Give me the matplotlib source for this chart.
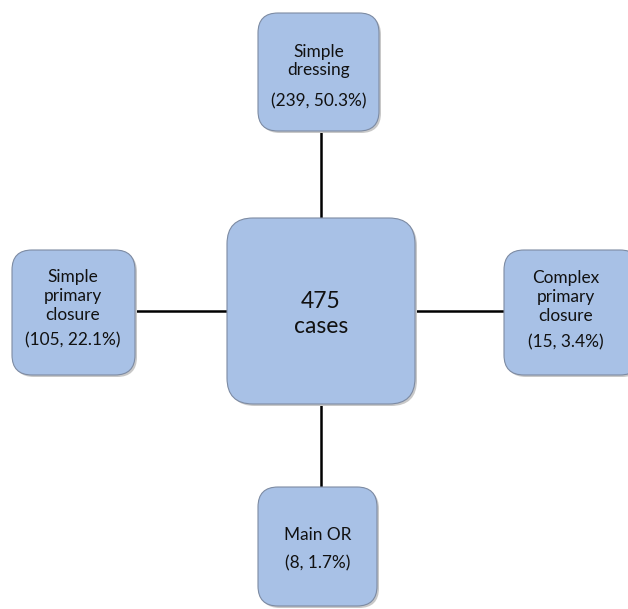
import matplotlib
matplotlib.use("Agg")
import matplotlib.pyplot as plt
from matplotlib.patches import FancyBboxPatch

plt.rcParams['font.family'] = ['Lato', 'DejaVu Sans']

total_label = "475\ncases"
categories = ["Simple\ndressing", "Simple\nprimary\nclosure", "Complex\nprimary\nclosure", "Main OR"]
counts = [239, 105, 15, 8]
percents = [50.3, 22.1, 3.4, 1.7]

W, H = 628, 609
fig = plt.figure(figsize=(W / 100, H / 100), dpi=100)
ax = fig.add_axes([0, 0, 1, 1])
ax.set_xlim(0, W)
ax.set_ylim(H, 0)
ax.axis('off')

fill = '#a8c1e6'
edge = '#7d8ba3'

# boxes: (x0, y0, x1, y1), label y, value y, x centre
center_box = (227, 218, 415, 404)
boxes = [
    ((258, 13, 379, 131), 61, 101, 319),
    ((12, 250, 135, 375), 296, 340, 73),
    ((504, 250, 640, 375), 297, 342, 566),
    ((258, 487, 377, 606), 535, 563, 318),
]

def draw_box(b, r):
    x0, y0, x1, y1 = b
    sh = FancyBboxPatch((x0 + 2, y0 + 2), x1 - x0, y1 - y0,
                        boxstyle=f"round,pad=0,rounding_size={r}",
                        fc='#c8c8c8', ec='none', zorder=1)
    ax.add_patch(sh)
    p = FancyBboxPatch((x0, y0), x1 - x0, y1 - y0,
                       boxstyle=f"round,pad=0,rounding_size={r}",
                       fc=fill, ec=edge, lw=0.8, zorder=2)
    ax.add_patch(p)

cx0, cy0, cx1, cy1 = center_box
cxm, cym = 321, 311
lw = 1.8
ax.plot([cxm, cxm], [boxes[0][0][3], cy0], color='black', lw=lw, zorder=0)
ax.plot([cxm, cxm], [cy1, boxes[3][0][1]], color='black', lw=lw, zorder=0)
ax.plot([boxes[1][0][2], cx0], [cym, cym], color='black', lw=lw, zorder=0)
ax.plot([cx1, boxes[2][0][0]], [cym, cym], color='black', lw=lw, zorder=0)

draw_box(center_box, 26)
ax.text(cxm, 314, total_label, ha='center', va='center', fontsize=16.5,
        linespacing=1.2, color='#111111', zorder=3)

for (b, ly, vy, xm), cat, n, pct in zip(boxes, categories, counts, percents):
    draw_box(b, 20)
    ax.text(xm, ly, cat, ha='center', va='center', fontsize=12.4,
            linespacing=1.2, color='#111111', zorder=3)
    ax.text(xm, vy, f"({n}, {pct}%)", ha='center', va='center', fontsize=12.4,
            color='#111111', zorder=3)

fig.savefig('out.png', dpi=100, facecolor='white')
